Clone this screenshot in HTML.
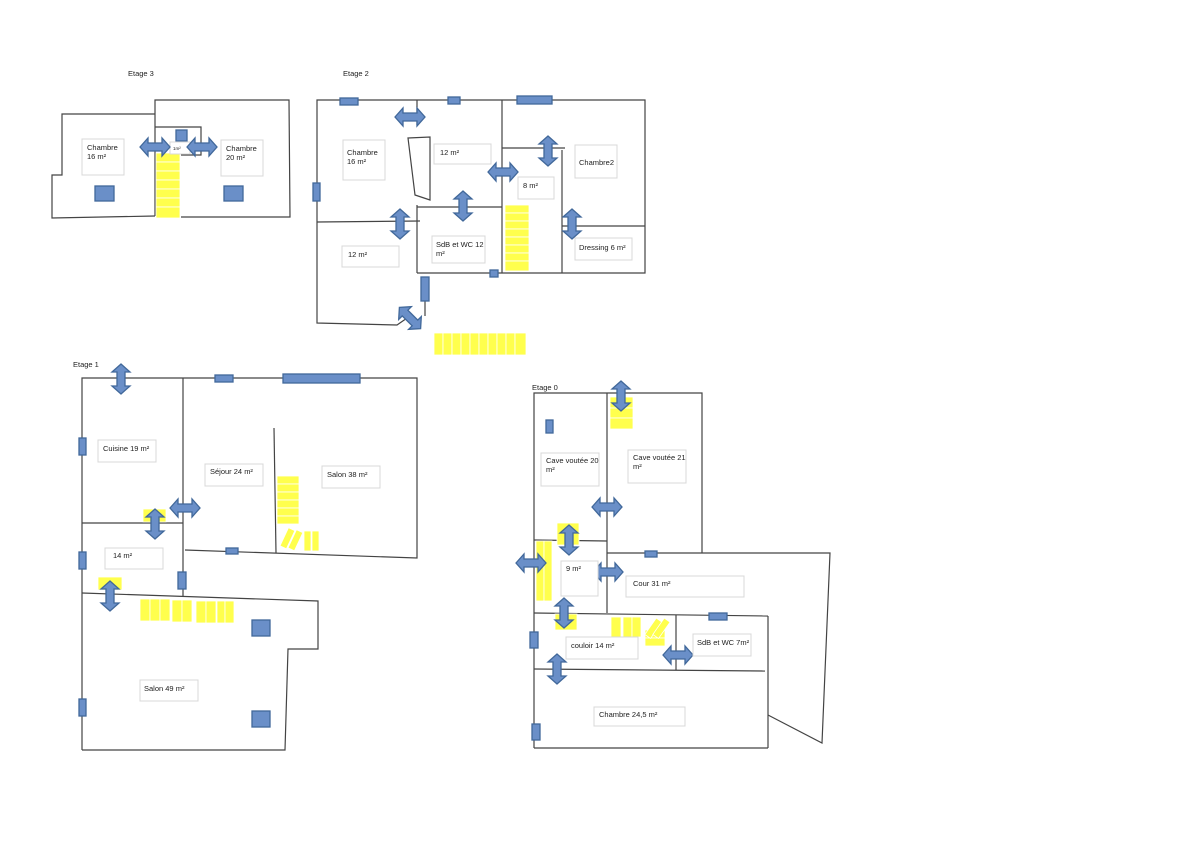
<!DOCTYPE html>
<html><head><meta charset="utf-8"><style>
html,body{margin:0;padding:0;background:#fff}
svg{display:block}
text{font-family:"Liberation Sans",sans-serif;font-size:7.5px;fill:#222}
.w{stroke:#444;stroke-width:1.2;fill:none}
.b{fill:#6a8fc8;stroke:#41689a;stroke-width:1.3}
.y{fill:#ffff4d;stroke:#fff;stroke-width:0.8}
.l{fill:#fff;stroke:#d8d8d8;stroke-width:1}
</style></head><body>
<svg width="1190" height="841" viewBox="0 0 1190 841" xmlns="http://www.w3.org/2000/svg">
<defs>
<polygon id="ha" class="b" points="0,9 8,0 8,5 22,5 22,0 30,9 22,18 22,13 8,13 8,18" transform="translate(-15,-9)"/>
<polygon id="va" class="b" points="9,0 18,8 13,8 13,22 18,22 9,30 0,22 5,22 5,8 0,8" transform="translate(-9,-15)"/>
</defs>

<!-- ETAGE 3 -->
<text x="128" y="76">Etage 3</text>
<polyline class="w" points="155,114 62,114 62,175 52,175 52,218 155,216"/>
<polyline class="w" points="155,216 155,100 289,100 290,217 181,217"/>
<polyline class="w" points="155,127 201,127 201,155 181,155"/>
<g class="y"><rect x="156" y="153" width="24" height="9"/><rect x="156" y="162" width="24" height="9"/><rect x="156" y="171" width="24" height="9"/><rect x="156" y="180" width="24" height="9"/><rect x="156" y="189" width="24" height="9"/><rect x="156" y="198" width="24" height="9"/><rect x="156" y="207" width="24" height="11"/></g>
<rect class="b" x="176" y="130" width="11" height="11"/>
<rect class="l" x="170" y="142" width="20" height="12"/><text x="173" y="150" style="font-size:4.5px">1m²</text>
<use href="#ha" x="155" y="147"/><use href="#ha" x="202" y="147"/>
<rect class="l" x="82" y="139" width="42" height="36"/><text x="87" y="150">Chambre</text><text x="87" y="159">16 m²</text>
<rect class="l" x="221" y="140" width="42" height="36"/><text x="226" y="151">Chambre</text><text x="226" y="160">20 m²</text>
<rect class="b" x="95" y="186" width="19" height="15"/><rect class="b" x="224" y="186" width="19" height="15"/>

<!-- ETAGE 2 -->
<text x="343" y="76">Etage 2</text>
<polyline class="w" points="417,273 645,273 645,100 317,100 317,323 397,325 410,316"/>
<line class="w" x1="425" y1="300" x2="425" y2="316"/>
<line class="w" x1="417" y1="100" x2="417" y2="125"/>
<polygon class="w" points="408,138 430,137 430,200 415,195"/>
<line class="w" x1="317" y1="222" x2="420" y2="221"/>
<line class="w" x1="417" y1="205" x2="417" y2="273"/>
<line class="w" x1="417" y1="207" x2="502" y2="207"/>
<line class="w" x1="502" y1="100" x2="502" y2="273"/>
<line class="w" x1="502" y1="148" x2="565" y2="148"/>
<line class="w" x1="562" y1="150" x2="562" y2="273"/>
<line class="w" x1="562" y1="226" x2="645" y2="226"/>
<rect class="b" x="340" y="98" width="18" height="7"/><rect class="b" x="448" y="97" width="12" height="7"/><rect class="b" x="517" y="96" width="35" height="8"/>
<rect class="b" x="313" y="183" width="7" height="18"/><rect class="b" x="490" y="270" width="8" height="7"/><rect class="b" x="421" y="277" width="8" height="24"/>
<use href="#va" x="410" y="318" transform="rotate(-45 410 318)"/>
<use href="#ha" x="410" y="117"/><use href="#va" x="548" y="151"/><use href="#ha" x="503" y="172"/>
<use href="#va" x="463" y="206"/><use href="#va" x="400" y="224"/><use href="#va" x="572" y="224"/>
<g class="y"><rect x="505" y="205" width="24" height="8"/><rect x="505" y="213" width="24" height="8"/><rect x="505" y="221" width="24" height="8"/><rect x="505" y="229" width="24" height="8"/><rect x="505" y="237" width="24" height="8"/><rect x="505" y="245" width="24" height="8"/><rect x="505" y="253" width="24" height="8"/><rect x="505" y="261" width="24" height="10"/></g>
<g class="y"><rect x="434" y="333" width="9" height="22"/><rect x="443" y="333" width="9" height="22"/><rect x="452" y="333" width="9" height="22"/><rect x="461" y="333" width="9" height="22"/><rect x="470" y="333" width="9" height="22"/><rect x="479" y="333" width="9" height="22"/><rect x="488" y="333" width="9" height="22"/><rect x="497" y="333" width="9" height="22"/><rect x="506" y="333" width="9" height="22"/><rect x="515" y="333" width="11" height="22"/></g>
<rect class="l" x="343" y="140" width="42" height="40"/><text x="347" y="155">Chambre</text><text x="347" y="164">16 m²</text>
<rect class="l" x="434" y="144" width="57" height="20"/><text x="440" y="155">12 m²</text>
<rect class="l" x="518" y="177" width="36" height="22"/><text x="523" y="188">8 m²</text>
<rect class="l" x="575" y="145" width="42" height="33"/><text x="579" y="165">Chambre2</text>
<rect class="l" x="432" y="236" width="53" height="27"/><text x="436" y="247">SdB et WC 12</text><text x="436" y="256">m²</text>
<rect class="l" x="342" y="246" width="57" height="21"/><text x="348" y="257">12 m²</text>
<rect class="l" x="575" y="238" width="57" height="22"/><text x="579" y="250">Dressing  6 m²</text>

<!-- ETAGE 1 -->
<text x="73" y="367">Etage 1</text>
<polyline class="w" points="82,750 82,378 417,378 417,558 185,550"/>
<line class="w" x1="183" y1="378" x2="183" y2="597"/>
<line class="w" x1="82" y1="523" x2="183" y2="523"/>
<line class="w" x1="274" y1="428" x2="276" y2="553"/>
<polyline class="w" points="82,593 318,601 318,649 288,649 285,750 82,750"/>
<rect class="b" x="215" y="375" width="18" height="7"/><rect class="b" x="283" y="374" width="77" height="9"/>
<rect class="b" x="79" y="438" width="7" height="17"/><rect class="b" x="79" y="552" width="7" height="17"/><rect class="b" x="79" y="699" width="7" height="17"/>
<rect class="b" x="178" y="572" width="8" height="17"/><rect class="b" x="226" y="548" width="12" height="6"/>
<rect class="b" x="252" y="620" width="18" height="16"/><rect class="b" x="252" y="711" width="18" height="16"/>
<g class="y"><rect x="143" y="509" width="23" height="13"/><rect x="98" y="577" width="24" height="13"/>
<rect x="277" y="476" width="22" height="8"/><rect x="277" y="484" width="22" height="8"/><rect x="277" y="492" width="22" height="8"/><rect x="277" y="500" width="22" height="8"/><rect x="277" y="508" width="22" height="8"/><rect x="277" y="516" width="22" height="8"/>
<rect x="284" y="528" width="7" height="20" transform="rotate(25 287 538)"/><rect x="292" y="530" width="7" height="20" transform="rotate(25 295 540)"/>
<rect x="304" y="531" width="7" height="20"/><rect x="312" y="531" width="7" height="20"/>
<rect x="140" y="599" width="10" height="22"/><rect x="150" y="599" width="10" height="22"/><rect x="160" y="599" width="10" height="22"/><rect x="172" y="600" width="10" height="22"/><rect x="182" y="600" width="10" height="22"/><rect x="196" y="601" width="10" height="22"/><rect x="206" y="601" width="10" height="22"/><rect x="217" y="601" width="8" height="22"/><rect x="225" y="601" width="9" height="22"/></g>
<use href="#va" x="121" y="379"/><use href="#ha" x="185" y="508"/><use href="#va" x="155" y="524"/><use href="#va" x="110" y="596"/>
<rect class="l" x="98" y="440" width="58" height="22"/><text x="103" y="451">Cuisine 19 m²</text>
<rect class="l" x="205" y="464" width="58" height="22"/><text x="210" y="474">Séjour 24 m²</text>
<rect class="l" x="322" y="466" width="58" height="22"/><text x="327" y="477">Salon 38 m²</text>
<rect class="l" x="105" y="548" width="58" height="21"/><text x="113" y="558">14 m²</text>
<rect class="l" x="140" y="680" width="58" height="21"/><text x="144" y="691">Salon 49 m²</text>

<!-- ETAGE 0 -->
<text x="532" y="390">Etage 0</text>
<polyline class="w" points="534,748 534,393 702,393 702,553"/>
<line class="w" x1="607" y1="393" x2="607" y2="613"/>
<polyline class="w" points="607,553 830,553 822,743 768,715"/>
<line class="w" x1="534" y1="540" x2="607" y2="541"/>
<line class="w" x1="534" y1="613" x2="768" y2="616"/>
<line class="w" x1="768" y1="616" x2="768" y2="748"/>
<line class="w" x1="534" y1="669" x2="765" y2="671"/>
<line class="w" x1="676" y1="615" x2="676" y2="670"/>
<line class="w" x1="534" y1="748" x2="768" y2="748"/>
<rect class="b" x="546" y="420" width="7" height="13"/><rect class="b" x="645" y="551" width="12" height="6"/><rect class="b" x="709" y="613" width="18" height="7"/>
<rect class="b" x="530" y="632" width="8" height="16"/><rect class="b" x="532" y="724" width="8" height="16"/>
<g class="y"><rect x="610" y="397" width="23" height="11"/><rect x="610" y="408" width="23" height="10"/><rect x="610" y="418" width="23" height="11"/>
<rect x="557" y="523" width="22" height="22"/>
<rect x="536" y="541" width="8" height="60"/><rect x="544" y="541" width="8" height="60"/>
<rect x="555" y="614" width="22" height="16"/>
<rect x="611" y="617" width="10" height="20"/><rect x="623" y="617" width="9" height="20"/><rect x="632" y="617" width="9" height="20"/>
<rect x="645" y="630" width="20" height="8"/><rect x="645" y="638" width="20" height="8"/>
<rect x="650" y="618" width="7" height="20" transform="rotate(35 653 628)"/><rect x="658" y="618" width="7" height="20" transform="rotate(35 661 628)"/></g>
<use href="#va" x="621" y="396"/><use href="#ha" x="607" y="507"/><use href="#va" x="569" y="540"/><use href="#ha" x="531" y="563"/>
<use href="#ha" x="608" y="572"/><use href="#va" x="564" y="613"/><use href="#ha" x="678" y="655"/><use href="#va" x="557" y="669"/>
<rect class="l" x="541" y="453" width="58" height="33"/><text x="546" y="463">Cave voutée 20</text><text x="546" y="472">m²</text>
<rect class="l" x="628" y="450" width="58" height="33"/><text x="633" y="460">Cave voutée 21</text><text x="633" y="469">m²</text>
<rect class="l" x="561" y="561" width="37" height="35"/><text x="566" y="571">9 m²</text>
<rect class="l" x="626" y="576" width="118" height="21"/><text x="633" y="586">Cour 31 m²</text>
<rect class="l" x="566" y="637" width="72" height="22"/><text x="571" y="648">couloir 14 m²</text>
<rect class="l" x="693" y="634" width="58" height="22"/><text x="697" y="645">SdB et WC 7m²</text>
<rect class="l" x="594" y="707" width="91" height="19"/><text x="599" y="717">Chambre 24,5 m²</text>
</svg>
</body></html>
